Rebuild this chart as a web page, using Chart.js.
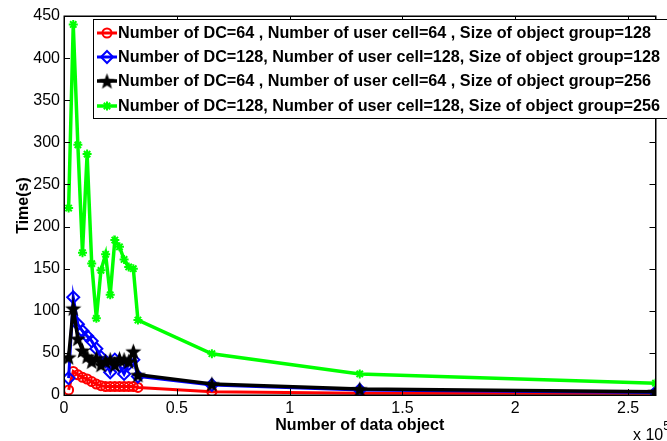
<!DOCTYPE html>
<html><head><meta charset="utf-8">
<script src="https://cdn.jsdelivr.net/npm/chart.js@4.4.0/dist/chart.umd.min.js"></script>
<style>html,body{margin:0;padding:0;background:#fff;}#wrap{position:relative;width:667px;height:441px;overflow:hidden;}</style>
</head><body><div id="wrap"><canvas id="c" width="667" height="441"></canvas></div>
<script>
const xValues = [2048, 4096, 6144, 8192, 10240, 12288, 14336, 16384, 18432, 20480, 22528, 24576, 26624, 28672, 30720, 32768, 65536, 131072, 262144];
const seriesRed   = [6, 28, 24, 21, 19, 16, 13, 11, 10, 10, 10, 10, 10, 10, 10, 9, 4, 2, 2];
const seriesBlue  = [20, 116, 84, 76, 70, 64, 55, 45, 40, 27, 42, 35, 25, 37, 42, 22, 12, 6, 3];
const seriesBlack = [45, 103, 67, 53, 46, 40, 44, 36, 40, 42, 36, 43, 42, 40, 52, 24, 13, 7, 4];
const seriesGreen = [222, 440, 297, 169, 286, 156, 91, 148, 167, 119, 184, 176, 161, 152, 150, 89, 49, 25, 14];
const legendLabels = [
  'Number of DC=64 , Number of user cell=64 , Size of object group=128',
  'Number of DC=128, Number of user cell=128, Size of object group=128',
  'Number of DC=64 , Number of user cell=64 , Size of object group=256',
  'Number of DC=128, Number of user cell=128, Size of object group=256'
];
const xTickValues = [0, 50000, 100000, 150000, 200000, 250000];
const yTickValues = [0, 50, 100, 150, 200, 250, 300, 350, 400, 450];
const xTitle = 'Number of data object';
const yTitle = 'Time(s)';

const FONT = "'Liberation Sans', Arial, Helvetica, sans-serif";

// filled five-point star marker
function makeStar(size, color) {
  const cv = document.createElement('canvas');
  cv.width = size; cv.height = size;
  const g = cv.getContext('2d');
  const c = size / 2, ro = size / 2, ri = ro * 0.42;
  g.beginPath();
  for (let i = 0; i < 10; i++) {
    const r = i % 2 ? ri : ro;
    const a = -Math.PI / 2 + i * Math.PI / 5;
    const px = c + r * Math.cos(a), py = c + r * Math.sin(a) + size * 0.05;
    i ? g.lineTo(px, py) : g.moveTo(px, py);
  }
  g.closePath();
  g.fillStyle = color; g.fill();
  return cv;
}
const starImg = makeStar(17, '#000');

function pts(ys) { return xValues.map((x, i) => ({x: x, y: ys[i]})); }

const datasets = [
  {data: pts(seriesRed), borderColor: '#ff0000', backgroundColor: 'rgba(0,0,0,0)', borderWidth: 3,
   pointStyle: 'circle', pointRadius: 4.5, pointBorderWidth: 2, pointBorderColor: '#ff0000', order: 4},
  {data: pts(seriesBlue), borderColor: '#0000ff', backgroundColor: 'rgba(0,0,0,0)', borderWidth: 3,
   pointStyle: 'rectRot', pointRadius: 6, pointBorderWidth: 2, pointBorderColor: '#0000ff', order: 3},
  {data: pts(seriesBlack), borderColor: '#000000', backgroundColor: '#000', borderWidth: 3.5,
   pointStyle: starImg, pointRadius: 8, order: 2},
  {data: pts(seriesGreen), borderColor: '#00ff00', backgroundColor: 'rgba(0,0,0,0)', borderWidth: 3.5,
   pointStyle: 'star', pointRadius: 4.5, pointBorderWidth: 2, pointBorderColor: '#00ff00', order: 1}
];

function drawMarker(ctx, i, x, y) {
  ctx.save();
  if (i === 0) {
    ctx.strokeStyle = '#ff0000'; ctx.lineWidth = 2;
    ctx.beginPath(); ctx.arc(x, y, 4.5, 0, Math.PI * 2); ctx.stroke();
  } else if (i === 1) {
    ctx.strokeStyle = '#0000ff'; ctx.lineWidth = 2;
    ctx.beginPath(); ctx.moveTo(x, y - 6); ctx.lineTo(x + 6, y); ctx.lineTo(x, y + 6); ctx.lineTo(x - 6, y); ctx.closePath(); ctx.stroke();
  } else if (i === 2) {
    ctx.drawImage(starImg, x - starImg.width / 2, y - starImg.height / 2);
  } else {
    ctx.strokeStyle = '#00ff00'; ctx.lineWidth = 2;
    ctx.beginPath();
    const r = 4.5;
    ctx.moveTo(x - r, y); ctx.lineTo(x + r, y);
    ctx.moveTo(x, y - r); ctx.lineTo(x, y + r);
    const d = r * Math.SQRT1_2;
    ctx.moveTo(x - d, y - d); ctx.lineTo(x + d, y + d);
    ctx.moveTo(x - d, y + d); ctx.lineTo(x + d, y - d);
    ctx.stroke();
  }
  ctx.restore();
}

const decor = {
  id: 'decor',
  afterDraw(chart) {
    const ctx = chart.ctx, a = chart.chartArea, xs = chart.scales.x, ys = chart.scales.y;
    ctx.save();
    ctx.strokeStyle = '#000'; ctx.lineWidth = 1;
    ctx.beginPath();
    yTickValues.forEach(v => {
      const p = Math.round(ys.getPixelForValue(v)) + 0.5;
      ctx.moveTo(a.left, p); ctx.lineTo(a.left + 6, p);
      ctx.moveTo(a.right, p); ctx.lineTo(a.right - 6, p);
    });
    xTickValues.forEach(v => {
      const p = Math.round(xs.getPixelForValue(v)) + 0.5;
      ctx.moveTo(p, a.bottom); ctx.lineTo(p, a.bottom - 6);
      ctx.moveTo(p, a.top); ctx.lineTo(p, a.top + 6);
    });
    ctx.stroke();
    ctx.lineWidth = 1.5;
    ctx.strokeRect(Math.round(a.left) + 0.25, Math.round(a.top) + 0.25, a.right - a.left, a.bottom - a.top);

    // legend
    const lx = 93.5, ly = 19.5, lw = 600, lh = 99;
    ctx.fillStyle = '#fff';
    ctx.fillRect(lx, ly, lw, lh);
    ctx.lineWidth = 1;
    ctx.strokeRect(lx, ly, lw, lh);
    const rowY = [33, 57, 81, 106];
    ctx.font = 'bold 16.2px ' + FONT;
    ctx.textBaseline = 'middle';
    ctx.textAlign = 'left';
    datasets.forEach((ds, i) => {
      const yy = rowY[i];
      ctx.strokeStyle = ds.borderColor; ctx.lineWidth = ds.borderWidth;
      ctx.beginPath(); ctx.moveTo(97, yy); ctx.lineTo(117, yy); ctx.stroke();
      drawMarker(ctx, i, 107, yy);
      ctx.fillStyle = '#000';
      ctx.fillText(legendLabels[i], 118, yy + 1);
    });

    // x 10^5 multiplier
    ctx.fillStyle = '#000';
    ctx.font = '16px ' + FONT;
    ctx.textBaseline = 'middle';
    ctx.fillText('x 10', 633, 436);
    const w = ctx.measureText('x 10').width;
    ctx.font = '12px ' + FONT;
    ctx.fillText('5', 633 + w, 427);
    ctx.restore();
  }
};

new Chart(document.getElementById('c'), {
  type: 'line',
  data: {datasets: datasets},
  plugins: [decor],
  options: {
    responsive: false, animation: false, devicePixelRatio: 1,
    layout: {padding: {top: 16, right: 3, left: 0, bottom: 0}},
    plugins: {legend: {display: false}, tooltip: {enabled: false}},
    elements: {line: {tension: 0}},
    scales: {
      x: {
        type: 'linear', min: 0, max: 262144,
        ticks: {autoSkip: false, maxRotation: 0,
          callback: v => String(v / 100000), color: '#000', padding: 4,
          font: {family: FONT, size: 16}},
        afterBuildTicks(s) { s.ticks = xTickValues.map(v => ({value: v})); },
        grid: {display: false, drawTicks: false},
        border: {display: false},
        title: {display: true, text: xTitle, color: '#000', font: {family: FONT, size: 16, weight: 'bold'},
          padding: {top: 0, bottom: 6}},
        afterFit(s) { s.height = 46; }
      },
      y: {
        type: 'linear', min: 0, max: 450,
        ticks: {color: '#000', padding: 4, font: {family: FONT, size: 16}},
        afterBuildTicks(s) { s.ticks = yTickValues.map(v => ({value: v})); },
        grid: {display: false, drawTicks: false},
        border: {display: false},
        title: {display: true, text: yTitle, color: '#000', font: {family: FONT, size: 16, weight: 'bold'},
          padding: {top: 14, bottom: 0}},
        afterFit(s) { s.width = 64; }
      }
    }
  }
});
</script>
</body></html>
